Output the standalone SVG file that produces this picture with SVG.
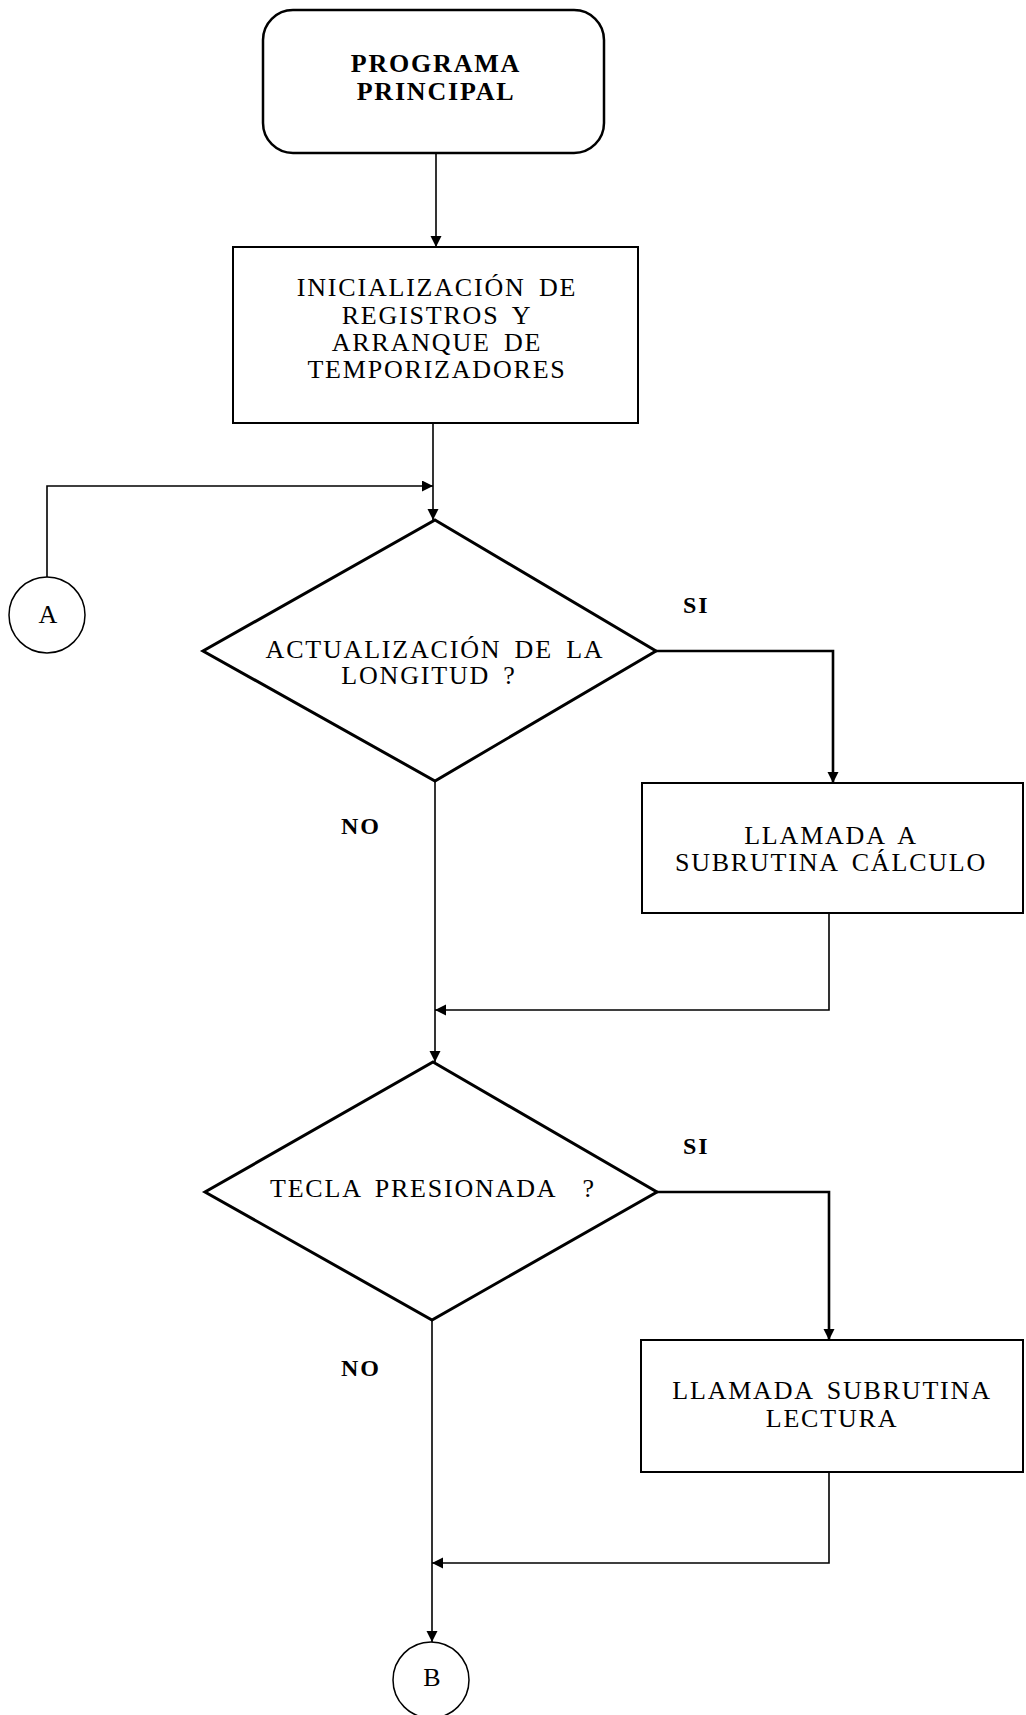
<svg xmlns="http://www.w3.org/2000/svg" width="1026" height="1715" viewBox="0 0 1026 1715">
  <defs>
    <marker id="arrow" markerUnits="userSpaceOnUse" markerWidth="12" markerHeight="12" refX="11" refY="5.5" orient="auto">
      <path d="M0,0 L11,5.5 L0,11 z" fill="#000"/>
    </marker>
    <style>
      .box { fill: #fff; stroke: #000; stroke-width: 2; }
      .term { fill: #fff; stroke: #000; stroke-width: 2.5; }
      .dec { fill: #fff; stroke: #000; stroke-width: 3; stroke-linejoin: miter; }
      .conn { fill: #fff; stroke: #000; stroke-width: 1.5; }
      .wire { fill: none; stroke: #000; stroke-width: 1.6; marker-end: url(#arrow); }
      .thick { stroke-width: 2.6; }
      .lbl { font-family: "Liberation Serif", "Times New Roman", serif; font-size: 26px; letter-spacing: 1.8px; word-spacing: 5px; fill: #000; text-anchor: middle; }
      .bold { font-weight: bold; }
      .start { text-anchor: start; }
    </style>
  </defs>

  <rect width="1026" height="1715" fill="#fff"/>

  <!-- connectors -->
  <g id="connectors">
    <path class="wire" d="M436,153 V247"/>
    <path class="wire" d="M433,423 V520"/>
    <path class="wire" d="M47,577 V486 H433"/>
    <path class="wire thick" d="M656,651 H833 V783"/>
    <path class="wire" d="M435,781 V1062"/>
    <path class="wire" d="M829,913 V1010 H435"/>
    <path class="wire thick" d="M657,1192 H829 V1340"/>
    <path class="wire" d="M432,1320 V1642"/>
    <path class="wire" d="M829,1472 V1563 H432"/>
  </g>

  <!-- branch labels -->
  <g id="branch-labels">
    <text class="lbl bold start" x="683" y="613" style="font-size:24px">SI</text>
    <text class="lbl bold start" x="341" y="834" style="font-size:24px">NO</text>
    <text class="lbl bold start" x="683" y="1154" style="font-size:24px">SI</text>
    <text class="lbl bold start" x="341" y="1376" style="font-size:24px">NO</text>
  </g>

  <!-- start terminal -->
  <g id="programa-principal">
    <rect class="term" x="263" y="10" width="341" height="143" rx="30" ry="30"/>
    <text class="lbl bold" x="436" y="72">PROGRAMA</text>
    <text class="lbl bold" x="436" y="100">PRINCIPAL</text>
  </g>

  <!-- initialisation -->
  <g id="inicializacion">
    <rect class="box" x="233" y="247" width="405" height="176"/>
    <text class="lbl" x="437" y="296">INICIALIZACIÓN DE</text>
    <text class="lbl" x="437" y="324">REGISTROS Y</text>
    <text class="lbl" x="437" y="351">ARRANQUE DE</text>
    <text class="lbl" x="437" y="378">TEMPORIZADORES</text>
  </g>

  <!-- connector A -->
  <g id="conector-a">
    <circle class="conn" cx="47" cy="615" r="38"/>
    <text class="lbl" x="48" y="623" style="letter-spacing:0">A</text>
  </g>

  <!-- first decision -->
  <g id="actualizacion-longitud">
    <polygon class="dec" points="435,520 656,651 435,781 203,651"/>
    <text class="lbl" x="435" y="658">ACTUALIZACIÓN DE LA</text>
    <text class="lbl" x="429" y="684">LONGITUD ?</text>
  </g>

  <!-- call to calculation subroutine -->
  <g id="subrutina-calculo">
    <rect class="box" x="642" y="783" width="381" height="130"/>
    <text class="lbl" x="831" y="844">LLAMADA A</text>
    <text class="lbl" x="831" y="871">SUBRUTINA CÁLCULO</text>
  </g>

  <!-- second decision -->
  <g id="tecla-presionada">
    <polygon class="dec" points="433,1062 657,1192 432,1320 205,1192"/>
    <text class="lbl start" x="270" y="1197" xml:space="preserve">TECLA PRESIONADA  ?</text>
  </g>

  <!-- call to reading subroutine -->
  <g id="subrutina-lectura">
    <rect class="box" x="641" y="1340" width="382" height="132"/>
    <text class="lbl" x="832" y="1399">LLAMADA SUBRUTINA</text>
    <text class="lbl" x="832" y="1427">LECTURA</text>
  </g>

  <!-- connector B -->
  <g id="conector-b">
    <circle class="conn" cx="431" cy="1680" r="38"/>
    <text class="lbl" x="432" y="1686" style="letter-spacing:0">B</text>
  </g>
</svg>
